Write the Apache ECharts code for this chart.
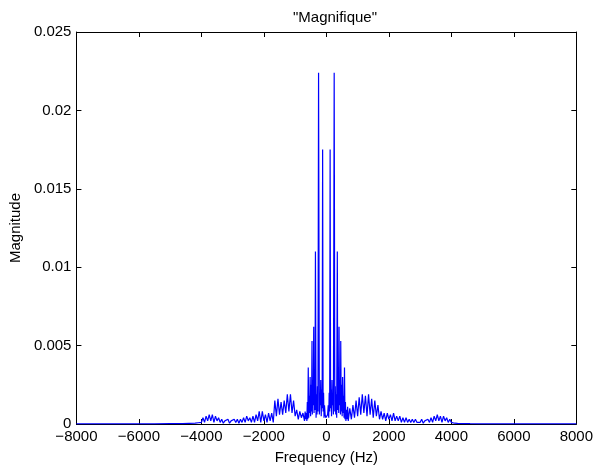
<!DOCTYPE html>
<html><head><meta charset="utf-8">
<script src="https://cdn.jsdelivr.net/npm/echarts@6/dist/echarts.min.js"></script>
<style>html,body{margin:0;padding:0;background:#fff}#c{width:596px;height:470px}</style>
</head><body><div id="c"></div>
<script>
const negFreq = [-8000,-7500,-7000,-6500,-6000,-5500,-5000,-4600,-4400,-4200,-4100,-4050,-4000,-3950,-3900,-3850,-3800,-3750,-3700,-3650,-3600,-3550,-3500,-3450,-3400,-3350,-3300,-3250,-3200,-3150,-3100,-3050,-3000,-2950,-2900,-2850,-2800,-2750,-2700,-2650,-2600,-2550,-2500,-2450,-2400,-2350,-2300,-2250,-2200,-2150,-2100,-2050,-2000,-1950,-1900,-1850,-1800,-1750,-1700,-1650,-1600,-1550,-1500,-1450,-1400,-1350,-1300,-1250,-1200,-1150,-1100,-1050,-1000,-950,-900,-850,-800,-750,-700,-680,-660,-640,-625,-610,-595,-580,-565,-550,-535,-520,-505,-490,-475,-460,-450,-440,-420,-405,-395,-380,-365,-350,-330,-315,-300,-285,-270,-250,-225,-210,-195,-180,-165,-150,-135,-120,-105,-90,-75,-60,-40,-20];
const negMag = [0.00001,0.00001,0.00001,0.00001,0.00001,0.00001,0.00002,0.00003,0.00004,0.00005,0.00008,0.0002,0.0001,0.0004,0.0001,0.0005,0.0002,0.0006,0.0002,0.0006,0.0001,0.0005,0.0002,0.0004,0.0001,0.0003,0.00005,0.0002,0.0001,0.0003,0.00005,0.0002,0.0001,0.0003,0.0001,0.0003,0.00005,0.0003,0.0001,0.0004,0.0001,0.0005,0.0002,0.0004,0.0001,0.0005,0.0001,0.0006,0.0002,0.0008,0.0001,0.0008,0.0002,0.0006,0.0001,0.0007,0.0002,0.0007,0.0001,0.0015,0.0005,0.0016,0.0006,0.0014,0.0006,0.0015,0.0007,0.0019,0.0008,0.0019,0.0007,0.0015,0.0005,0.0009,0.0003,0.0008,0.0004,0.0007,0.0002,0.0008,0.0003,0.0007,0.0002,0.0014,0.0003,0.0036,0.0004,0.0018,0.0007,0.0030,0.0005,0.0025,0.0008,0.0053,0.0006,0.0028,0.0012,0.0062,0.0007,0.0022,0.0009,0.0110,0.0004,0.0019,0.0006,0.0024,0.0008,0.0224,0.0006,0.0018,0.0012,0.0028,0.0005,0.0022,0.0010,0.0175,0.0008,0.0020,0.0004,0.0012,0.0006,0.0004];
const posFreq = [0,20,40,60,75,90,105,120,135,150,165,180,195,210,225,250,270,285,300,315,330,350,365,380,395,405,420,440,450,460,475,490,505,520,535,550,565,580,595,610,625,640,660,680,700,750,800,850,900,950,1000,1050,1100,1150,1200,1250,1300,1350,1400,1450,1500,1550,1600,1650,1700,1750,1800,1850,1900,1950,2000,2050,2100,2150,2200,2250,2300,2350,2400,2450,2500,2550,2600,2650,2700,2750,2800,2850,2900,2950,3000,3050,3100,3150,3200,3250,3300,3350,3400,3450,3500,3550,3600,3650,3700,3750,3800,3850,3900,3950,4000,4050,4100,4200,4400,4600,5000,5500,6000,6500,7000,7500,8000];
const posMag = [0.0003,0.0004,0.0006,0.0012,0.0004,0.0020,0.0008,0.0175,0.0010,0.0022,0.0005,0.0028,0.0012,0.0018,0.0006,0.0224,0.0008,0.0024,0.0006,0.0019,0.0004,0.0110,0.0009,0.0022,0.0007,0.0062,0.0012,0.0028,0.0006,0.0053,0.0008,0.0025,0.0005,0.0030,0.0007,0.0018,0.0004,0.0036,0.0003,0.0014,0.0002,0.0009,0.0003,0.0011,0.0002,0.0010,0.0003,0.0012,0.0004,0.0015,0.0005,0.0017,0.0006,0.0019,0.0007,0.0018,0.0005,0.0019,0.0006,0.0016,0.0004,0.0015,0.0005,0.0012,0.0003,0.0008,0.0003,0.0007,0.0002,0.0007,0.0003,0.0006,0.0002,0.0007,0.0002,0.0005,0.0002,0.0005,0.0001,0.0004,0.0001,0.0004,0.0001,0.0003,0.0001,0.0003,0.0001,0.0003,0.0001,0.0002,0.0001,0.0003,0.00005,0.0002,0.0001,0.0003,0.0001,0.0004,0.0001,0.0005,0.0002,0.0006,0.0002,0.0005,0.0001,0.0005,0.0002,0.0004,0.0001,0.0003,0.0001,0.0001,0.00005,0.00004,0.00003,0.00002,0.00001,0.00001,0.00001,0.00001,0.00001,0.00001,0.00001];
const xTicks = [-8000,-6000,-4000,-2000,0,2000,4000,6000,8000];
const yTicks = [0,0.005,0.01,0.015,0.02,0.025];

const freq = negFreq.concat(posFreq);
const mag = negMag.concat(posMag);
const pts = freq.map((f,i)=>[f,mag[i]]);

const FONT = 'Liberation Sans';
const FS = 15;
const chart = echarts.init(document.getElementById('c'), null, {renderer:'canvas'});
const axisCommon = {
  axisLine:{show:true,onZero:false,lineStyle:{color:'#000',width:1}},
  axisTick:{show:true,inside:true,length:5,lineStyle:{color:'#000',width:1}},
  splitLine:{show:false}
};
chart.setOption({
  animation:false,
  title:{text:'"Magnifique"',left:330,top:5,textAlign:'center',
    textStyle:{fontFamily:FONT,fontSize:FS,fontWeight:'normal',color:'#000'}},
  grid:{left:75,right:17,top:32,bottom:41,containLabel:false},
  xAxis:[
    Object.assign({type:'value',position:'bottom',min:xTicks[0],max:xTicks[xTicks.length-1],interval:xTicks[1]-xTicks[0],
      name:'Frequency (Hz)',nameLocation:'middle',nameGap:26,
      nameTextStyle:{fontFamily:FONT,fontSize:FS,color:'#000'},
      axisLabel:{fontFamily:FONT,fontSize:FS,color:'#000',margin:5,formatter:v=>String(v).replace('-','\u2212')}},axisCommon),
    Object.assign({type:'value',position:'top',min:xTicks[0],max:xTicks[xTicks.length-1],interval:xTicks[1]-xTicks[0],
      axisLabel:{show:false}},axisCommon)
  ],
  yAxis:[
    Object.assign({type:'value',position:'left',min:yTicks[0],max:yTicks[yTicks.length-1],interval:yTicks[1]-yTicks[0],
      name:'Magnitude',nameLocation:'middle',nameGap:50,nameRotate:90,
      nameTextStyle:{fontFamily:FONT,fontSize:FS,color:'#000'},
      axisLabel:{fontFamily:FONT,fontSize:FS,color:'#000',margin:5,formatter:v=>String(+v.toFixed(3))}},axisCommon),
    Object.assign({type:'value',position:'right',min:yTicks[0],max:yTicks[yTicks.length-1],interval:yTicks[1]-yTicks[0],
      axisLabel:{show:false}},axisCommon)
  ],
  series:[{type:'line',data:pts,xAxisIndex:0,yAxisIndex:0,showSymbol:false,symbol:'none',
    lineStyle:{color:'#0000ff',width:1.2},clip:true}]
});
</script></body></html>
